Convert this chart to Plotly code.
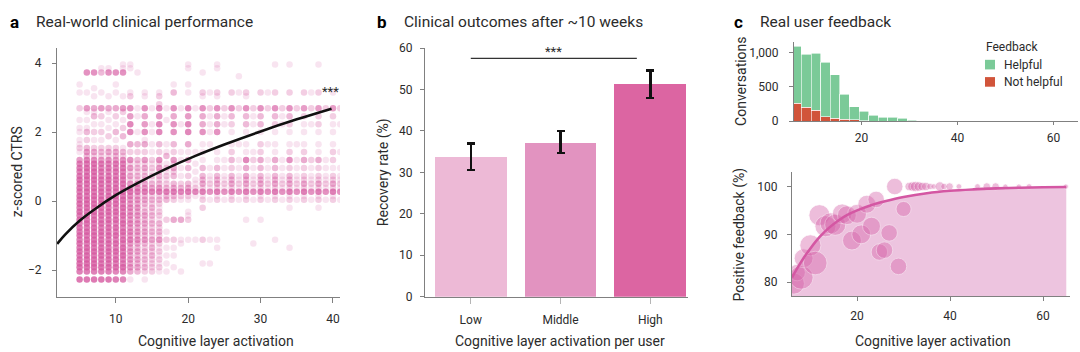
import plotly.graph_objects as go

# ---------------- Panel a: clinical performance (per-conversation scores) ----------------
ctrs_levels = [-2.27, -2.15, -2.04, -1.92, -1.81, -1.69, -1.58, -1.46, -1.35, -1.23,
               -1.12, -1.00, -0.89, -0.77, -0.65, -0.54, -0.42, -0.31, -0.19, -0.08,
               0.04, 0.15, 0.27, 0.38, 0.50, 0.62, 0.73, 0.85, 0.96, 1.08,
               1.19, 1.31, 1.42, 1.54, 1.65, 1.77, 1.88, 2.00, 2.12, 2.23,
               2.35, 2.46, 2.58, 2.69, 2.81, 2.92, 3.04, 3.15, 3.27, 3.38,
               3.50, 3.62, 3.73, 3.85, 3.96]
activation_cols = [5, 6, 7, 8, 9, 10, 11, 12, 13, 14, 15, 16, 17, 18, 19, 20, 21, 22, 23,
                   24, 25, 26, 27, 28, 29, 30, 31, 32, 33, 34, 35, 36, 37, 38, 39, 40, 41]
# number of users at each (activation, CTRS level); one string per activation column,
# digits run from the lowest CTRS level to the highest
user_counts = [
    "90899 98989 89898 98989 89898 98787 50121 10110 10020 00101 00000",  # 5
    "90899 99898 98989 89899 98989 89898 73530 20310 10150 00100 00600",  # 6
    "90899 98989 99898 98989 89898 98989 62420 10201 03140 01010 00600",  # 7
    "90898 89898 98989 89898 98989 87878 52320 10201 02050 00100 00310",  # 8
    "90898 98989 89898 98989 89898 98787 62420 02010 10140 01000 00610",  # 9
    "80797 97979 79797 97979 89898 87878 53420 10301 02040 00101 00600",  # 10
    "70797 79797 97979 79797 98989 78787 62310 03020 10250 01000 00611",  # 11
    "10454 54545 75656 56565 56975 24252 60204 00707 05060 02100 00011",  # 12
    "00343 43434 64545 45454 54865 23232 30203 00100 01010 00000 00100",  # 13
    "10232 32323 53434 34323 43854 23242 50204 10605 04060 01100 00000",  # 14
    "00222 23232 42323 23232 32743 12121 20101 00101 00010 00000 00000",  # 15
    "00121 21212 52323 12212 32853 23252 60203 00707 05072 02100 00000",  # 16
    "00101 01010 20100 20000 33832 12121 03101 00000 10010 00000 00000",  # 17
    "00010 01010 20000 40000 23843 03242 50203 00606 04060 00301 00000",  # 18
    "00100 00001 10000 40000 12732 01010 10100 00001 00010 00000 00000",  # 19
    "00000 00000 10000 21100 12843 02030 40104 00707 05070 00101 00011",  # 20
    "00000 00000 10000 00000 01721 10101 00100 00000 00010 00000 00000",  # 21
    "00001 00000 20000 00020 21824 33030 10101 00604 04060 01200 00100",  # 22
    "00001 00000 10000 00000 10612 11010 00001 00101 01020 00100 00000",  # 23
    "00000 00010 10000 00000 21824 33030 10100 00604 04060 01200 00011",  # 24
    "00000 00000 00000 00000 10612 11010 10000 00001 01020 00000 00000",  # 25
    "00000 00000 00000 00000 21824 33020 30201 00102 03060 00200 00000",  # 26
    "00000 00000 00000 00000 10612 11010 10001 00000 00020 00100 01000",  # 27
    "00000 00000 00000 10000 21824 34040 70101 00103 03060 01200 00000",  # 28
    "00000 00001 00000 00000 10612 11010 20100 00001 01020 00000 00000",  # 29
    "00000 00000 00000 10000 21824 33030 40202 00103 03060 00200 00000",  # 30
    "00000 00000 00000 00000 10612 11010 10001 00000 00020 00100 00000",  # 31
    "00000 00000 10000 00000 21824 33030 40101 00102 03060 00200 00001",  # 32
    "00000 00000 00000 00000 10612 11010 10000 00001 01020 00000 00000",  # 33
    "00000 00010 00000 00010 21824 33020 60201 00102 03060 00200 00001",  # 34
    "00000 00000 00000 00000 10612 11010 10001 00000 00020 00000 00000",  # 35
    "00000 00000 00000 00000 21824 22020 40201 00101 02050 00200 00000",  # 36
    "00000 00000 00000 00000 10612 11010 20000 00001 00020 00100 00000",  # 37
    "00000 00000 00000 00010 21824 22020 40101 00102 02050 00200 00001",  # 38
    "00000 00000 00000 00000 10612 11010 10000 00000 00020 00000 00000",  # 39
    "00000 00000 00000 00000 21824 22010 20201 00101 02050 00100 00000",  # 40
    "00000 00000 00000 00000 10612 11010 00100 00001 00020 00000 00000",  # 41
]
trend_a_x = [1.9, 3, 5, 7, 10, 13, 17, 21, 25, 30, 35, 39.8]
trend_a_y = [-1.24, -0.97, -0.57, -0.25, 0.17, 0.52, 0.94, 1.31, 1.64, 2.02, 2.37, 2.68]

# ---------------- Panel b: recovery rate ----------------
groups = ["Low", "Middle", "High"]
recovery = [33.7, 37.2, 51.2]
recovery_hi = [37.0, 40.0, 54.6]
recovery_lo = [30.6, 34.7, 47.9]

# ---------------- Panel c: user feedback ----------------
bin_centers = [6.5, 8.5, 10.5, 12.5, 14.5, 16.5, 18.5, 20.5, 22.5, 24.5, 26.5, 28.5, 30.5]
helpful = [825, 772, 828, 796, 628, 363, 195, 138, 81, 58, 58, 41, 18]
not_helpful = [265, 205, 163, 65, 47, 28, 19, 6, 3, 2, 2, 1, 0]

bubble_x = [6.4, 7.1, 8.0, 8.5, 9.95, 11.0, 11.9, 13.2, 14.3, 15.3, 16.8, 17.8, 18.9, 20.0,
            20.9, 22.1, 23.1, 24.1, 24.8, 25.9, 26.9, 28.1, 28.9, 30.0,
            31.2, 31.9, 32.6, 33.3, 34.0, 34.8, 35.7, 36.5, 37.8, 38.7, 39.9, 41.9,
            45.9, 47.9, 49.8, 51.9, 54.8, 57.0, 64.9]
bubble_y = [79.7, 82.0, 81.0, 85.0, 87.7, 84.0, 94.0, 91.7, 92.3, 92.0, 94.3, 94.0, 88.7, 94.3,
            90.0, 96.3, 91.7, 97.3, 86.3, 86.7, 90.3, 100.0, 83.3, 95.3,
            100, 100, 100, 100, 100, 100, 100, 100, 100, 100, 100, 100,
            100, 100, 100, 100, 100, 100, 100]
bubble_conv = [400, 245, 500, 320, 400, 500, 400, 400, 400, 400, 350, 320, 320, 320,
               320, 290, 290, 245, 245, 245, 245, 245, 245, 205,
               64, 80, 96, 80, 64, 64, 39, 29, 80, 39, 51, 29,
               29, 51, 51, 24, 24, 29, 24]
fit_x = [6, 8, 10, 12, 14, 16, 18, 20, 23, 26, 30, 35, 40, 45, 50, 55, 60, 65]
fit_y = [81.0, 84.3, 87.1, 89.5, 91.4, 92.9, 94.1, 95.0, 96.1, 96.9, 97.8, 98.6, 99.1,
         99.4, 99.6, 99.75, 99.85, 99.9]

# ---------------- styling ----------------
FONT = "Roboto"
TXT = "#2b2b2b"
AX = "#808080"
DOT = "#D5579F"

W, H = 1080, 352


def px_x(v):
    return v / W


def px_y(v):
    return 1 - v / H


fig = go.Figure()

# panel a scatter
pts_x, pts_y, pts_op = [], [], []
for col_x, col in zip(activation_cols, user_counts):
    digits = col.replace(" ", "")
    assert len(digits) == len(ctrs_levels)
    for lvl, d in zip(ctrs_levels, digits):
        n = int(d)
        if n:
            pts_x.append(col_x)
            pts_y.append(lvl)
            pts_op.append(1 - 0.84 ** n)

fig.add_trace(go.Scatter(x=pts_x, y=pts_y, mode="markers", xaxis="x", yaxis="y",
                         marker=dict(size=6.5, color=DOT, opacity=pts_op, line=dict(width=0)),
                         hoverinfo="skip"))
fig.add_trace(go.Scatter(x=trend_a_x, y=trend_a_y, mode="lines", xaxis="x", yaxis="y",
                         line=dict(color="#111111", width=2.6, shape="spline")))

# panel b bars
fig.add_trace(go.Bar(x=groups, y=recovery, xaxis="x2", yaxis="y2", width=0.8,
                     marker=dict(color=["#EDB9D6", "#E293C0", "#DC65A2"], line=dict(width=0)),
                     error_y=dict(type="data", symmetric=False,
                                  array=[h - v for h, v in zip(recovery_hi, recovery)],
                                  arrayminus=[v - l for v, l in zip(recovery, recovery_lo)],
                                  color="#111111", thickness=2.4, width=4)))

# panel c histogram (stacked)
fig.add_trace(go.Bar(x=bin_centers, y=not_helpful, xaxis="x3", yaxis="y3", width=2,
                     marker=dict(color="#D1543A", line=dict(color="white", width=0.6)),
                     name="Not helpful"))
fig.add_trace(go.Bar(x=bin_centers, y=helpful, xaxis="x3", yaxis="y3", width=2,
                     marker=dict(color="#7BCA98", line=dict(color="white", width=0.6)),
                     name="Helpful"))

# panel c bubbles
fig.add_trace(go.Scatter(x=fit_x, y=fit_y, mode="lines", xaxis="x4", yaxis="y4",
                         line=dict(width=0, shape="spline"), fill="tozeroy",
                         fillcolor="#EDC4DF", hoverinfo="skip"))
fig.add_trace(go.Scatter(x=bubble_x, y=bubble_y, mode="markers", xaxis="x4", yaxis="y4",
                         marker=dict(size=bubble_conv, sizemode="area", sizeref=1.79,
                                     color="#D664AA", opacity=0.42,
                                     line=dict(color="white", width=0.8))))
fig.add_trace(go.Scatter(x=fit_x, y=fit_y, mode="lines", xaxis="x4", yaxis="y4",
                         line=dict(color="#D457A3", width=2.6, shape="spline")))


def axis(**kw):
    base = dict(showline=True, linecolor=AX, linewidth=1.1, ticks="outside", ticklen=4,
                tickcolor=AX, tickwidth=1, showgrid=False, zeroline=False,
                tickfont=dict(family=FONT, size=12, color=TXT), fixedrange=True)
    base.update(kw)
    return base


fig.update_layout(
    width=W, height=H, margin=dict(l=0, r=0, t=0, b=0),
    paper_bgcolor="white", plot_bgcolor="white", showlegend=False,
    barmode="stack", font=dict(family=FONT, color=TXT),
    xaxis=axis(domain=[px_x(57), px_x(340)], range=[1.88, 40.97], tickvals=[10, 20, 30, 40],
               anchor="y", ticklen=5, ticklabelstandoff=6),
    yaxis=axis(domain=[px_y(302), px_y(43)], range=[-2.78, 4.43], tickvals=[-2, 0, 2, 4],
               anchor="x", ticklabelstandoff=8),
    xaxis2=axis(domain=[px_x(425), px_x(688)], range=[-0.51, 2.42], anchor="y2",
                ticklen=6, tickcolor="#b5b5b5", ticklabelstandoff=6),
    yaxis2=axis(domain=[px_y(301.7), px_y(42.7)], range=[0, 60], dtick=10, anchor="x2",
                ticklabelstandoff=5),
    xaxis3=axis(domain=[px_x(794), px_x(1078)], range=[5.94, 65.1], tickvals=[20, 40, 60],
                anchor="y3", ticklen=3, ticklabelstandoff=2),
    yaxis3=axis(domain=[px_y(119), px_y(36)], range=[0, 1160], tickvals=[0, 500, 1000],
                tickformat=",", anchor="x3", ticklabelstandoff=8),
    xaxis4=axis(domain=[px_x(792), px_x(1070)], range=[6.0, 65.8], tickvals=[20, 40, 60],
                anchor="y4", ticklabelstandoff=5),
    yaxis4=axis(domain=[px_y(301), px_y(172)], range=[77.1, 103], tickvals=[80, 90, 100],
                anchor="x4", ticklabelstandoff=7),
)

ann = []


def text(x, y, s, size=14, bold=False, anchor="left", angle=0, color=TXT):
    ann.append(dict(x=px_x(x), y=px_y(y), xref="paper", yref="paper", text=s,
                    showarrow=False, xanchor=anchor, yanchor="middle", textangle=angle,
                    font=dict(family=FONT, size=size, color=color,
                              weight="bold" if bold else "normal")))


# panel titles
text(8, 16, "a", size=17, bold=True, color="#000")
text(34, 16, "Real-world clinical performance", size=15.5)
text(375, 16, "b", size=17, bold=True, color="#000")
text(402, 16, "Clinical outcomes after ~10 weeks", size=15.5)
text(732, 16, "c", size=17, bold=True, color="#000")
text(758, 16, "Real user feedback", size=15.5)

# axis titles
text(17, 172, "z-scored CTRS", size=14, anchor="center", angle=-90)
text(216, 348, "Cognitive layer activation", size=14, anchor="center")
text(383, 172, "Recovery rate (%)", size=14, anchor="center", angle=-90)
text(560, 348, "Cognitive layer activation per user", size=14, anchor="center")
text(741, 78, "Conversations", size=14, anchor="center", angle=-90)
text(740, 237, "Positive feedback (%)", size=14, anchor="center", angle=-90)
text(933, 348, "Cognitive layer activation", size=14, anchor="center")

# legend of panel c
text(984, 42, "Feedback", size=12)
text(1002, 60, "Helpful", size=12)
text(1002, 78, "Not helpful", size=12)

# significance marks
ann.append(dict(x=39.6, y=3.17, xref="x", yref="y", text="***", showarrow=False,
                font=dict(family=FONT, size=13, color=TXT)))
ann.append(dict(x=0.925, y=59.2, xref="x2", yref="y2", text="***", showarrow=False,
                font=dict(family=FONT, size=13, color=TXT)))

fig.update_layout(annotations=ann)

fig.add_shape(type="line", xref="x2", yref="y2", x0=0, x1=1.85, y0=57.5, y1=57.5,
              line=dict(color="#333333", width=1.1))
# legend swatches
fig.add_shape(type="rect", xref="paper", yref="paper", x0=px_x(985), x1=px_x(995),
              y0=px_y(65), y1=px_y(55), fillcolor="#7BCA98", line=dict(width=0))
fig.add_shape(type="rect", xref="paper", yref="paper", x0=px_x(985), x1=px_x(995),
              y0=px_y(83), y1=px_y(73), fillcolor="#D1543A", line=dict(width=0))

fig.write_html("out.html")
